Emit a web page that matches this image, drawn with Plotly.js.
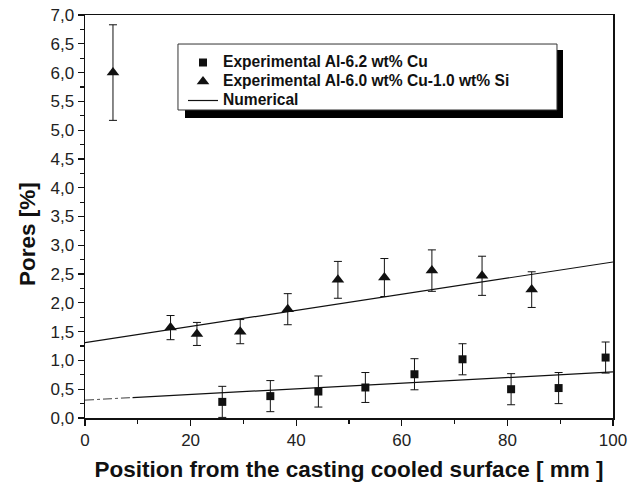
<!DOCTYPE html>
<html>
<head>
<meta charset="utf-8">
<script src="https://cdn.plot.ly/plotly-3.0.1.min.js"></script>
<style>html,body{margin:0;padding:0;background:#fff;}</style>
</head>
<body>
<div id="chart" style="width:643px;height:486px;"></div>
<script>
// Experimental Al-6.2 wt% Cu (squares)
const cuX   = [26.0, 35.1, 44.2, 53.1, 62.4, 71.5, 80.7, 89.7, 98.6];
const cuY   = [0.28, 0.38, 0.46, 0.53, 0.76, 1.02, 0.50, 0.52, 1.05];
const cuErr = [0.27, 0.27, 0.27, 0.26, 0.27, 0.27, 0.27, 0.27, 0.27];

// Experimental Al-6.0 wt% Cu-1.0 wt% Si (triangles)
const siX   = [5.3, 16.2, 21.2, 29.4, 38.4, 47.9, 56.7, 65.7, 75.2, 84.6];
const siY   = [6.00, 1.57, 1.46, 1.50, 1.89, 2.40, 2.44, 2.56, 2.47, 2.23];
const siErr = [0.83, 0.21, 0.20, 0.21, 0.27, 0.32, 0.33, 0.36, 0.34, 0.31];

// Numerical
const numSiX = [0, 100];
const numSiY = [1.31, 2.71];
const numCuDotX = [0, 9];
const numCuDotY = [0.31, 0.355];
const numCuX = [9, 100];
const numCuY = [0.355, 0.80];

const seriesNames = ["Experimental Al-6.2 wt% Cu", "Experimental Al-6.0 wt% Cu-1.0 wt% Si", "Numerical"];
const yTickVals = [0,0.5,1,1.5,2,2.5,3,3.5,4,4.5,5,5.5,6,6.5,7];
const xTickVals = [0,20,40,60,80,100];

const FONT = "Liberation Sans, Arial, sans-serif";
const INK = "#111";
const big = s => '<span style="font-size:15.6px">' + s + '</span>';

const traces = [
  {
    x: cuX, y: cuY, type: "scatter", mode: "markers",
    name: big(seriesNames[0]),
    marker: {symbol: "square", size: 8, color: INK},
    error_y: {type: "data", array: cuErr, visible: true, color: INK, thickness: 1, width: 4}
  },
  {
    x: siX, y: siY, type: "scatter", mode: "markers",
    name: big(seriesNames[1]),
    marker: {symbol: "triangle-up", size: 11, color: INK},
    error_y: {type: "data", array: siErr, visible: true, color: INK, thickness: 1, width: 4}
  },
  {
    x: numSiX, y: numSiY, type: "scatter", mode: "lines",
    name: big(seriesNames[2]),
    line: {color: INK, width: 1.2}
  },
  {
    x: numCuX, y: numCuY, type: "scatter", mode: "lines",
    showlegend: false, line: {color: INK, width: 1.2}
  },
  {
    x: numCuDotX, y: numCuDotY, type: "scatter", mode: "lines",
    showlegend: false, line: {color: "#666", width: 1.2, dash: "dashdot"}
  }
];

const layout = {
  width: 643, height: 486,
  margin: {l: 85, r: 30, t: 15, b: 68},
  paper_bgcolor: "#fff", plot_bgcolor: "#fff",
  separators: ", ",
  font: {family: FONT, color: INK},
  showlegend: true,
  legend: {
    x: 0.1856, y: 0.9181, xanchor: "left", yanchor: "top",
    bgcolor: "rgba(0,0,0,0)", borderwidth: 0,
    font: {family: FONT, size: 12, weight: "bold", color: INK},
    tracegroupgap: 0
  },
  xaxis: {
    range: [0, 100], tickvals: xTickVals,
    ticks: "outside", ticklen: 6, tickwidth: 1.2, tickcolor: INK,
    minor: {dtick: 10, ticks: "outside", ticklen: 4, tickwidth: 1.2, tickcolor: INK},
    showline: true, linecolor: INK, linewidth: 1.5, mirror: true,
    showgrid: false, zeroline: false,
    tickfont: {family: FONT, size: 17, color: "#222"},
    title: {text: "Position from the casting cooled surface [ mm ]",
            font: {family: FONT, size: 22.5, weight: "bold", color: INK}, standoff: 12}
  },
  yaxis: {
    range: [0, 7], tickvals: yTickVals, tickformat: ".1f",
    ticks: "outside", ticklen: 6, tickwidth: 1.2, tickcolor: INK,
    minor: {dtick: 0.25, ticks: "outside", ticklen: 4, tickwidth: 1.2, tickcolor: INK},
    showline: true, linecolor: INK, linewidth: 1.5, mirror: true,
    showgrid: false, zeroline: false,
    tickfont: {family: FONT, size: 17, color: "#222"}
  },
  annotations: [
    {text: "Pores [%]", xref: "paper", yref: "paper", x: 0, y: 0.4566,
     xshift: -57, xanchor: "center", yanchor: "middle", textangle: -90, showarrow: false,
     font: {family: FONT, size: 22.5, weight: "bold", color: INK}}
  ],
  shapes: [
    {type: "rect", xref: "paper", yref: "paper",
     x0: 0.1894, x1: 0.9053, y0: 0.7444, y1: 0.9132,
     fillcolor: "#000", line: {width: 0}, layer: "above"},
    {type: "rect", xref: "paper", yref: "paper",
     x0: 0.1761, x1: 0.8939, y0: 0.7643, y1: 0.928,
     fillcolor: "#fff", line: {color: "#333", width: 1}, layer: "above"}
  ]
};

Plotly.newPlot("chart", traces, layout, {displayModeBar: false, staticPlot: true});
</script>
</body>
</html>
